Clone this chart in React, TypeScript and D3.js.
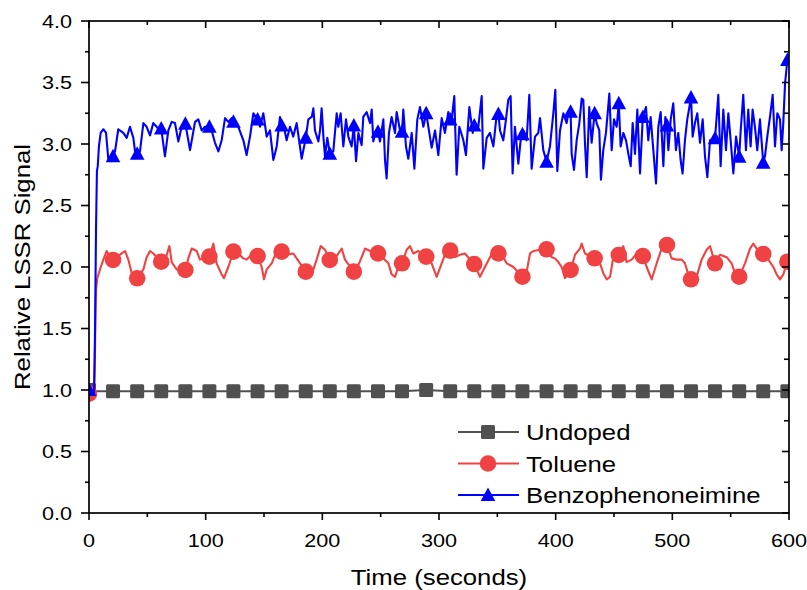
import React from 'react';
import * as d3 from 'd3';

const xTicks = [0, 100, 200, 300, 400, 500, 600];
const xMinor = [50, 150, 250, 350, 450, 550];
const yTicks = [0, 0.5, 1.0, 1.5, 2.0, 2.5, 3.0, 3.5, 4.0];
const yMinor = [0.25, 0.75, 1.25, 1.75, 2.25, 2.75, 3.25, 3.75];

const seriesNames = ['Undoped', 'Toluene', 'Benzophenoneimine'];
const seriesColors = ['#505050', '#F04242', '#0000FF'];

const markerTimes = [0, 20.6, 41.3, 61.9, 82.6, 103.2, 123.8, 144.5, 165.1, 185.8, 206.4, 227.0, 247.7, 268.3, 289.0,
  309.6, 330.2, 350.9, 371.5, 392.2, 412.8, 433.4, 454.1, 474.7, 495.4, 516.0, 536.6, 557.3, 577.9, 598.6];

const undopedMarkers = [1.0, 0.99, 0.99, 0.99, 0.99, 0.99, 0.99, 0.99, 0.99, 0.99, 0.99, 0.99, 0.99, 0.99, 1.0,
  0.99, 0.99, 0.99, 0.99, 0.99, 0.99, 0.99, 0.99, 0.99, 0.99, 0.99, 0.99, 0.99, 0.99, 0.99];
const tolueneMarkers = [0.97, 2.057, 1.908, 2.043, 1.976, 2.084, 2.125, 2.089, 2.125, 1.962, 2.057, 1.962, 2.111, 2.03, 2.084,
  2.133, 2.024, 2.111, 1.921, 2.144, 1.976, 2.071, 2.098, 2.089, 2.179, 1.9, 2.03, 1.921, 2.106, 2.043];
const benzoMarkers = [1.0, 2.9, 2.92, 3.127, 3.165, 3.141, 3.181, 3.2, 3.15, 3.05, 2.92, 3.15, 3.1, 3.1, 3.25,
  3.2, 3.15, 3.244, 3.08, 2.856, 3.263, 3.25, 3.331, 3.22, 3.15, 3.379, 3.046, 2.897, 2.848, 3.683];

const undopedLine: [number, number][] = [[3, 1.0], [5, 0.99], [600, 0.99]];

const tolueneLine: [number, number][] = [
  [1.5, 0.94], [3, 0.93], [4.3, 0.97], [5.0, 1.2], [5.5, 1.6], [6.0, 1.81], [7.1, 1.91], [9.4, 1.98], [12.3, 2.06], [15.1, 2.13], [17.5, 2.09],
  [23.7, 2.08], [28.0, 2.11], [30.9, 2.13], [33.7, 2.06], [36.6, 1.95],
  [46.6, 1.98], [49.4, 2.08], [52.3, 2.13], [55.1, 2.11],
  [66.0, 2.08], [68.9, 2.17], [70.9, 2.04], [75.1, 1.98],
  [85.1, 2.07], [88.0, 2.15], [92.3, 2.13], [95.1, 2.06], [99.4, 2.08],
  [106.6, 2.19], [109.4, 2.03], [113.7, 1.94], [115.7, 1.91], [119.4, 2.0],
  [128.0, 2.11], [132.3, 2.07], [135.1, 2.06], [139.4, 2.1],
  [148.0, 2.0], [150.0, 1.9], [152.3, 1.98], [156.6, 2.03], [160.9, 2.13],
  [169.4, 2.1], [175.1, 2.11], [180.9, 2.03],
  [190.9, 1.94], [195.1, 2.06], [198.6, 2.17], [202.3, 2.14],
  [210.9, 2.07], [215.1, 2.13], [216.6, 2.15], [219.4, 2.06],
  [229.4, 1.98], [233.7, 2.08], [236.6, 2.15], [240.9, 2.13],
  [252.3, 2.07], [256.6, 2.03], [259.4, 1.94], [262.3, 1.92], [265.1, 2.0],
  [272.3, 2.14], [275.1, 2.17], [278.0, 2.11], [282.3, 2.13],
  [293.7, 2.03], [298.0, 1.92], [302.3, 2.03], [305.1, 2.1],
  [313.7, 2.08], [318.0, 2.1], [322.3, 2.11], [326.6, 2.06],
  [335.1, 1.92], [339.4, 2.0], [343.7, 2.08], [348.0, 2.15],
  [355.1, 2.08], [358.0, 2.03], [363.7, 2.0],
  [375.1, 1.96], [378.0, 2.11], [380.9, 2.13], [386.6, 2.14],
  [396.6, 2.08], [399.4, 2.07], [402.3, 2.04], [405.1, 2.0], [408.0, 1.91],
  [416.6, 2.1], [420.8, 2.15], [422.3, 2.19], [425.1, 2.11],
  [438.0, 2.03], [440.8, 1.95], [443.7, 1.9], [446.6, 1.92], [449.4, 2.08],
  [458.0, 2.17], [460.8, 2.04], [465.1, 2.06], [469.4, 2.11],
  [478.0, 2.0], [482.3, 1.9], [486.6, 2.03], [490.8, 2.15],
  [499.4, 2.07], [503.7, 2.06], [508.0, 2.06], [510.8, 2.03], [513.7, 1.94],
  [520.8, 1.92], [525.1, 2.06], [529.4, 2.14], [532.3, 2.17],
  [540.8, 2.1], [546.6, 2.08], [550.8, 2.03], [553.7, 1.95],
  [562.3, 2.03], [566.6, 2.15], [569.4, 2.19], [573.7, 2.13],
  [582.3, 2.06], [586.6, 2.0], [589.4, 1.94], [592.3, 1.9], [595.1, 1.94],
  [600, 2.06],
];

const benzoLine: [number, number][] = [
  [1.5, 0.98], [3, 0.96], [4.3, 0.97], [5.2, 1.5], [6, 2.3], [6.8, 2.78], [7.5, 2.82], [8.5, 2.98], [10, 3.09], [12.3, 3.12], [14.6, 3.09], [16.6, 2.87], [19.4, 2.86],
  [22.3, 2.94], [25.1, 3.12], [29.4, 3.09], [32.3, 3.05], [35.1, 3.14], [38.0, 3.05], [40.0, 2.9],
  [43.7, 2.94], [46.6, 3.17], [49.4, 3.14], [52.3, 3.07], [55.1, 3.17], [58.0, 3.14], [60.5, 3.11],
  [65.1, 2.9], [68.0, 3.11], [70.9, 3.18], [73.7, 3.17], [76.6, 3.02], [79.4, 3.14],
  [86.6, 2.95], [90.9, 3.18], [93.7, 3.2], [96.6, 3.11], [99.4, 3.14],
  [105.1, 3.11], [108.0, 3.01], [110.9, 2.94], [113.7, 3.03], [116.6, 3.21], [119.4, 3.18], [122.3, 3.21],
  [125.1, 3.17], [128.0, 3.14], [132.3, 3.03], [135.1, 2.91], [138.0, 3.06], [140.9, 3.25], [143.7, 3.21],
  [146.6, 3.14], [149.4, 3.25], [152.3, 3.06], [155.1, 3.11], [158.0, 2.87], [160.9, 2.98], [163.7, 3.22],
  [166.6, 3.16], [169.4, 3.03], [172.3, 3.14], [175.1, 3.06], [178.0, 3.17], [182.3, 2.88],
  [188.0, 3.2], [190.9, 3.22], [192.3, 3.29], [193.7, 3.11], [196.6, 3.02],
  [198.0, 3.11], [199.4, 3.29], [200.9, 3.06], [202.3, 2.9], [204.3, 3.05],
  [209.4, 2.94], [212.3, 3.25], [213.7, 3.14], [215.7, 3.25], [218.0, 2.98], [220.3, 3.2], [222.3, 3.06], [225.1, 2.98],
  [228.9, 2.86], [230.9, 3.09], [233.7, 2.99], [235.1, 3.22], [238.0, 3.26], [240.9, 3.17], [242.3, 3.28], [243.7, 3.02], [246.0, 3.11],
  [249.4, 3.02], [252.3, 3.2], [253.7, 2.87], [255.1, 2.72], [257.1, 3.09], [259.4, 3.22], [262.3, 3.09], [263.7, 3.26], [266.6, 3.11],
  [269.4, 3.28], [271.7, 2.98], [273.7, 2.88], [276.6, 3.09], [278.9, 2.8], [281.4, 3.2], [283.7, 3.3], [286.6, 3.14],
  [291.7, 3.09], [293.7, 2.97], [296.6, 3.11], [299.4, 2.91], [302.3, 3.21], [305.1, 3.09], [308.0, 3.26],
  [310.9, 3.2], [313.1, 3.39], [315.1, 2.75], [317.4, 3.14], [320.9, 3.03], [323.1, 2.91], [326.0, 3.3], [328.9, 3.09],
  [333.7, 3.14], [336.6, 3.39], [338.0, 2.8], [340.9, 3.05], [343.7, 3.09], [346.6, 2.98], [349.0, 3.2],
  [352.3, 3.11], [355.1, 3.03], [357.4, 3.2], [359.4, 3.36], [361.4, 3.39], [363.1, 2.76], [365.1, 3.14], [368.0, 2.84], [370.3, 3.06],
  [372.3, 3.11], [375.1, 3.03], [377.4, 3.4], [379.4, 2.8], [382.3, 3.06], [385.1, 3.09], [386.6, 3.21], [389.4, 2.95],
  [395.1, 2.98], [398.0, 3.25], [399.7, 3.44], [401.4, 2.78], [403.7, 3.11], [406.6, 3.25], [409.4, 3.17], [411.0, 3.26],
  [413.7, 2.92], [415.7, 2.79], [418.0, 3.03], [420.3, 3.17], [422.3, 3.37], [423.7, 3.36], [425.1, 3.01], [426.6, 2.73], [428.8, 3.3], [430.8, 3.01],
  [435.1, 3.17], [437.4, 3.11], [438.8, 2.71], [440.8, 2.95], [443.1, 3.09], [446.0, 3.41], [448.0, 2.95], [450.0, 3.2], [452.3, 3.14],
  [455.7, 2.98], [458.0, 3.09], [460.3, 3.03], [462.3, 2.92], [464.3, 2.82], [466.0, 3.17], [468.0, 2.92], [470.0, 3.28], [472.3, 2.76],
  [477.4, 3.3], [479.4, 3.03], [481.4, 3.22], [483.7, 2.95], [486.0, 2.68], [488.0, 3.14], [490.0, 3.26], [492.3, 2.82], [494.0, 3.22],
  [496.6, 2.95], [498.6, 3.2], [500.8, 3.33], [503.1, 2.95], [505.1, 3.09], [507.1, 2.87], [508.8, 2.76], [510.8, 3.03], [512.8, 3.2],
  [517.4, 3.06], [519.4, 3.17], [521.4, 3.25], [523.7, 3.01], [526.0, 3.2], [528.0, 2.9], [530.0, 2.73], [532.3, 3.03],
  [539.4, 3.4], [541.4, 2.82], [543.7, 3.28], [546.0, 2.95], [548.0, 3.25], [550.0, 3.03], [552.3, 2.76], [554.6, 3.06],
  [558.6, 3.11], [560.8, 3.4], [563.1, 2.95], [565.1, 3.28], [567.1, 2.98], [568.8, 3.28], [570.8, 3.14], [572.8, 2.95], [575.1, 3.2],
  [579.4, 2.9], [581.4, 3.06], [583.7, 3.22], [586.0, 3.4], [588.0, 2.98], [590.0, 3.25], [592.3, 3.2], [593.7, 2.95], [595.1, 3.17], [596.6, 3.49],
  [600, 3.7],
];

const FONT = '"Liberation Sans", Arial, sans-serif';
const SX = 1.17;

const W = 807, H = 590;
const x = d3.scaleLinear().domain([0, 600]).range([89, 789]);
const y = d3.scaleLinear().domain([0, 4]).range([513, 21]);

function merge(line: [number, number][], marks: number[]): [number, number][] {
  const pts: [number, number][] = line.concat(marks.map((v, i) => [markerTimes[i], v] as [number, number]));
  return pts.sort((a, b) => a[0] - b[0]);
}

const lineGen = d3.line<[number, number]>().x(d => x(d[0])).y(d => y(d[1]));

function Marker({ kind, cx, cy, color }: { kind: number; cx: number; cy: number; color: string }) {
  if (kind === 0) return <rect x={cx - 7} y={cy - 7} width={14} height={14} rx={1.5} fill={color} />;
  if (kind === 1) return <circle cx={cx} cy={cy} r={8.3} fill={color} />;
  return <path d={`M${cx},${cy - 7.5}L${cx + 7.3},${cy + 6}L${cx - 7.3},${cy + 6}Z`} fill={color} />;
}

export default function App() {
  const series = [
    { line: merge(undopedLine, undopedMarkers), marks: undopedMarkers, w: 2 },
    { line: merge(tolueneLine, tolueneMarkers), marks: tolueneMarkers, w: 2.1 },
    { line: merge(benzoLine, benzoMarkers), marks: benzoMarkers, w: 2.1 },
  ];
  const [x0, x1] = x.range();
  const [yb, yt] = y.range();
  return (
    <svg width={W} height={H} style={{ position: 'absolute', left: 0, top: 0, background: '#fff' }} fontFamily={FONT}>
      <defs>
        <clipPath id="plot">
          <rect x={x0} y={yt} width={x1 - x0} height={yb - yt} />
        </clipPath>
      </defs>
      <g clipPath="url(#plot)">
        {series.map((s, i) => (
          <g key={i}>
            <path d={lineGen(s.line) || ''} fill="none" stroke={seriesColors[i]} strokeWidth={s.w} strokeLinejoin="round" />
            {s.marks.map((v, j) => (
              <Marker key={j} kind={i} cx={x(markerTimes[j])} cy={y(v)} color={seriesColors[i]} />
            ))}
          </g>
        ))}
      </g>
      <rect x={x0} y={yt} width={x1 - x0} height={yb - yt} fill="none" stroke="#000" strokeWidth={1.7} />
      {xTicks.map(t => (
        <g key={'xt' + t}>
          <line x1={x(t)} x2={x(t)} y1={yb} y2={yb + 7} stroke="#000" strokeWidth={1.6} />
          <line x1={x(t)} x2={x(t)} y1={yt} y2={yt + 7} stroke="#000" strokeWidth={1.6} />
          <text transform={`translate(${x(t)},547) scale(${SX},1)`} textAnchor="middle" fontSize={18.5} fill="#000">{t}</text>
        </g>
      ))}
      {xMinor.map(t => (
        <g key={'xm' + t}>
          <line x1={x(t)} x2={x(t)} y1={yb} y2={yb + 4} stroke="#000" strokeWidth={1.6} />
          <line x1={x(t)} x2={x(t)} y1={yt} y2={yt + 4} stroke="#000" strokeWidth={1.6} />
        </g>
      ))}
      {yTicks.map(t => (
        <g key={'yt' + t}>
          <line x1={x0 - 8} x2={x0} y1={y(t)} y2={y(t)} stroke="#000" strokeWidth={1.6} />
          <line x1={x1 - 7} x2={x1} y1={y(t)} y2={y(t)} stroke="#000" strokeWidth={1.6} />
          <text transform={`translate(72,${y(t) + 6.5}) scale(${SX},1)`} textAnchor="end" fontSize={18.5} fill="#000">{t.toFixed(1)}</text>
        </g>
      ))}
      {yMinor.map(t => (
        <g key={'ym' + t}>
          <line x1={x0 - 4} x2={x0} y1={y(t)} y2={y(t)} stroke="#000" strokeWidth={1.6} />
          <line x1={x1 - 5} x2={x1} y1={y(t)} y2={y(t)} stroke="#000" strokeWidth={1.6} />
        </g>
      ))}
      <text transform={`translate(${(x0 + x1) / 2},585) scale(${SX},1)`} textAnchor="middle" fontSize={22} fill="#000">Time (seconds)</text>
      <text transform={`translate(29.5,${(yb + yt) / 2}) rotate(-90) scale(${SX},1)`} textAnchor="middle" fontSize={22} fill="#000">Relative LSSR Signal</text>
      {seriesNames.map((n, i) => {
        const ly = 432 + i * 31.5;
        return (
          <g key={n}>
            <line x1={458} x2={519} y1={ly} y2={ly} stroke={seriesColors[i]} strokeWidth={1.8} />
            <Marker kind={i} cx={488} cy={ly} color={seriesColors[i]} />
            <text transform={`translate(526,${ly + 8}) scale(${SX},1)`} fontSize={22} fill="#000">{n}</text>
          </g>
        );
      })}
    </svg>
  );
}
